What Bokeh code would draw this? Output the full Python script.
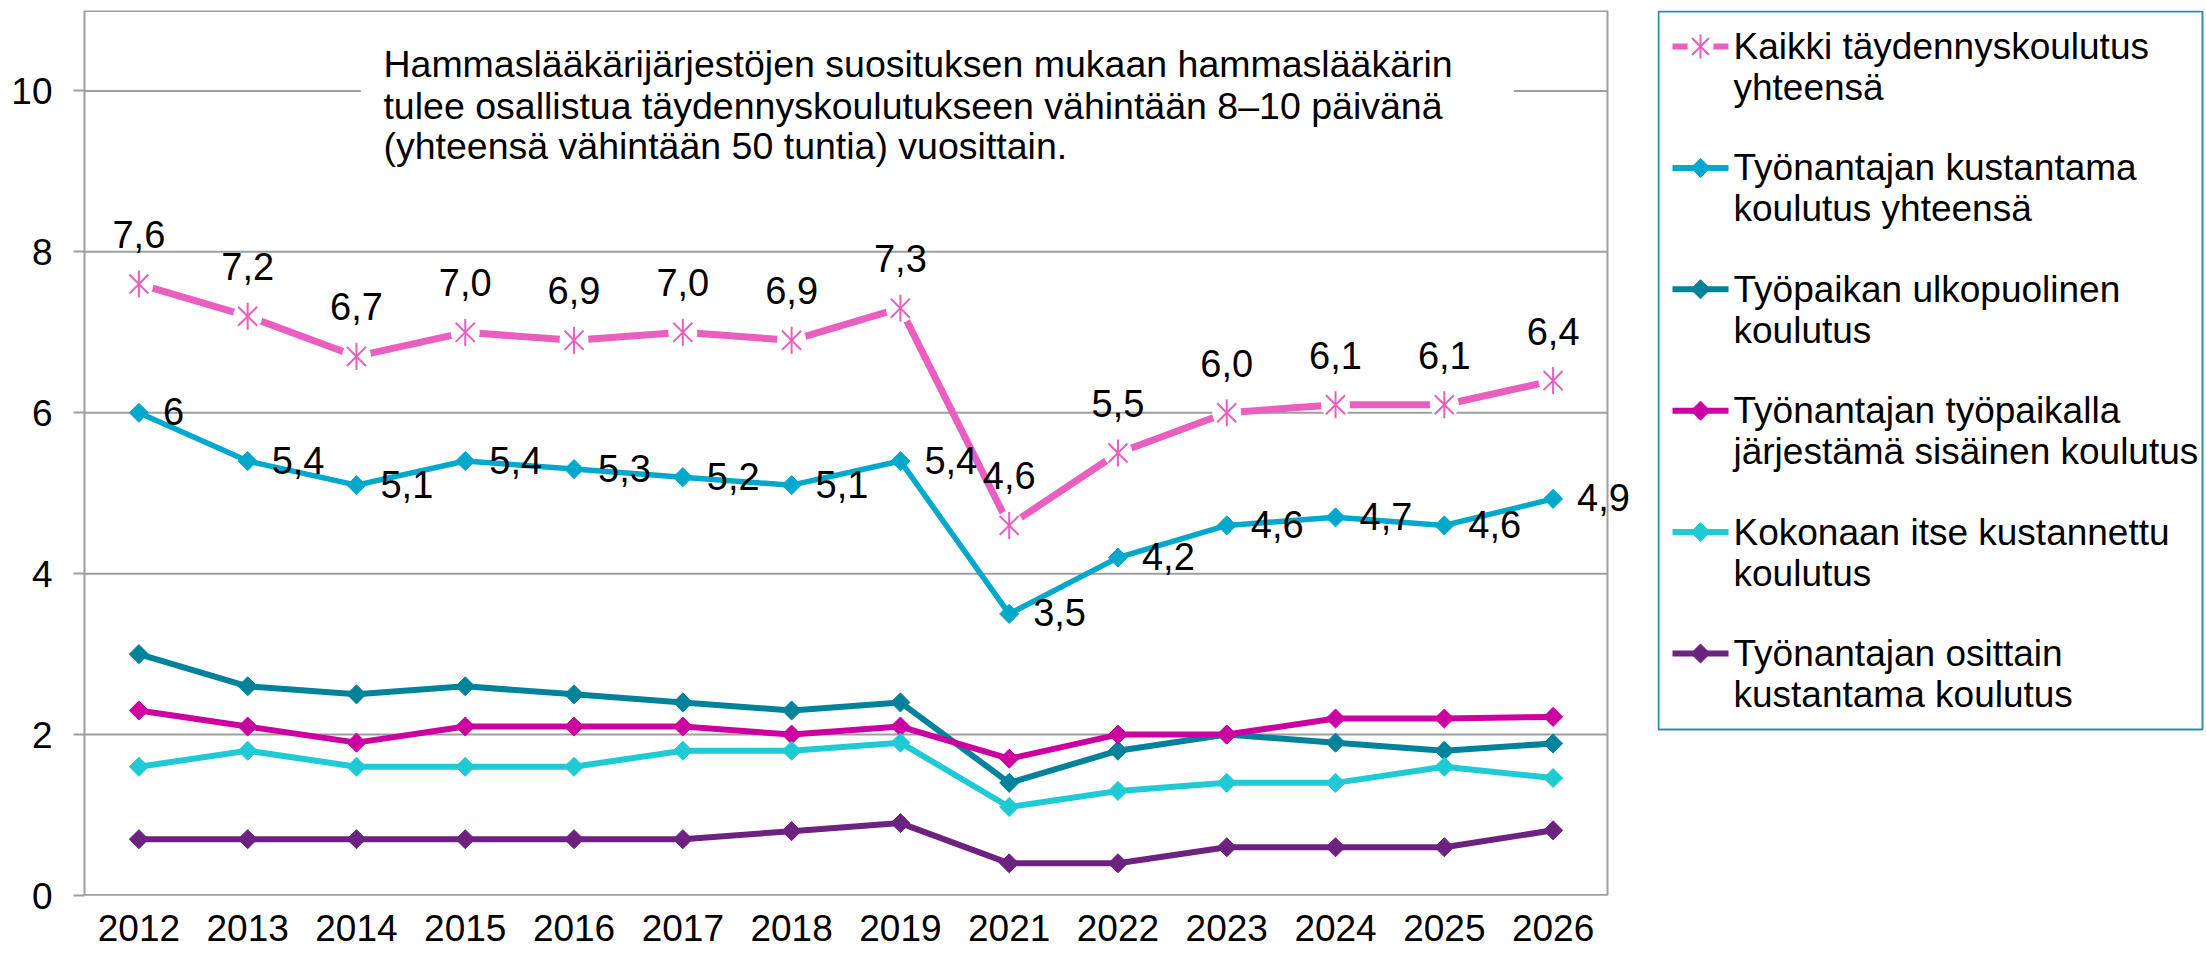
import numpy as np
from bokeh.plotting import figure
from bokeh.layouts import row
from bokeh.models import Range1d, FixedTicker, ColumnDataSource, LabelSet, Span
from bokeh.core.properties import value
from bokeh.embed import file_html
from bokeh.resources import INLINE

# ---------------- data ----------------
years = ["2012", "2013", "2014", "2015", "2016", "2017", "2018", "2019",
         "2021", "2022", "2023", "2024", "2025", "2026"]

total = [7.6, 7.2, 6.7, 7.0, 6.9, 7.0, 6.9, 7.3, 4.6, 5.5, 6.0, 6.1, 6.1, 6.4]
total_labels = ["7,6", "7,2", "6,7", "7,0", "6,9", "7,0", "6,9", "7,3",
                "4,6", "5,5", "6,0", "6,1", "6,1", "6,4"]

employer = [6.0, 5.4, 5.1, 5.4, 5.3, 5.2, 5.1, 5.4, 3.5, 4.2, 4.6, 4.7, 4.6, 4.93]
employer_labels = ["6", "5,4", "5,1", "5,4", "5,3", "5,2", "5,1", "5,4",
                   "3,5", "4,2", "4,6", "4,7", "4,6", "4,9"]

external = [3.0, 2.6, 2.5, 2.6, 2.5, 2.4, 2.3, 2.4, 1.4, 1.8, 2.0, 1.9, 1.8, 1.89]
internal = [2.3, 2.1, 1.9, 2.1, 2.1, 2.1, 2.0, 2.1, 1.7, 2.0, 2.0, 2.2, 2.2, 2.22]
self_paid = [1.6, 1.8, 1.6, 1.6, 1.6, 1.8, 1.8, 1.9, 1.1, 1.3, 1.4, 1.4, 1.6, 1.46]
partial = [0.7, 0.7, 0.7, 0.7, 0.7, 0.7, 0.8, 0.9, 0.4, 0.4, 0.6, 0.6, 0.6, 0.81]

y_ticks = [0, 2, 4, 6, 8, 10]
y_max = 11

legend_labels = [
    ["Kaikki täydennyskoulutus", "yhteensä"],
    ["Työnantajan kustantama", "koulutus yhteensä"],
    ["Työpaikan ulkopuolinen", "koulutus"],
    ["Työnantajan työpaikalla", "järjestämä sisäinen koulutus"],
    ["Kokonaan itse kustannettu", "koulutus"],
    ["Työnantajan osittain", "kustantama koulutus"],
]

note_lines = [
    "Hammaslääkärijärjestöjen suosituksen mukaan hammaslääkärin",
    "tulee osallistua täydennyskoulutukseen vähintään 8–10 päivänä",
    "(yhteensä vähintään 50 tuntia) vuosittain.",
]

# ---------------- styles / layout ----------------
FONT = "Liberation Sans"
PINK = "#E95EBE"
BLUE = "#00A8CC"
TEAL = "#00829B"
MAGENTA = "#CC00A0"
CYAN = "#1ECBD4"
PURPLE = "#6E2280"
GRID = "#9E9E9E"
LEGEND_BORDER = "#2B8FA8"

W_MAIN, W_LEG, H = 1657, 547, 956
FRAME_L, FRAME_R, FRAME_T, FRAME_B = 84, 1607, 10, 895

n = len(years)
xs = list(range(n))                      # category positions
x_lo, x_hi = -0.5, n - 0.5               # plot-area edges in category units
px_per_cat = (FRAME_R - FRAME_L) / n
x_end = x_hi + (W_MAIN - FRAME_R) / px_per_cat   # extra room so labels may pass the border

p = figure(x_range=Range1d(x_lo, x_end), y_range=Range1d(0, y_max),
           width=W_MAIN, height=H, output_backend="svg", toolbar_location=None,
           min_border_left=FRAME_L, min_border_right=0,
           min_border_top=FRAME_T, min_border_bottom=H - FRAME_B)
p.background_fill_color = "white"
p.border_fill_color = "white"
p.outline_line_color = None
p.xgrid.grid_line_color = None
p.ygrid.grid_line_color = None

p.yaxis.ticker = FixedTicker(ticks=y_ticks)
p.xaxis.ticker = FixedTicker(ticks=xs)
p.xaxis.major_label_overrides = {i: y for i, y in zip(xs, years)}

for ax in (p.xaxis, p.yaxis):
    ax.minor_tick_line_color = None
    ax.major_label_text_font = FONT
    ax.major_label_text_font_size = "37px"
    ax.major_label_text_color = "black"

p.yaxis.axis_line_color = GRID
p.yaxis.axis_line_width = 2
p.yaxis.major_tick_out = 11
p.yaxis.major_tick_in = 0
p.yaxis.major_tick_line_color = GRID
p.yaxis.major_tick_line_width = 2
p.yaxis.major_label_standoff = 21
p.xaxis.axis_line_color = None
p.xaxis.major_tick_line_color = None
p.xaxis.major_tick_out = 0
p.xaxis.major_tick_in = 0
p.xaxis.major_label_standoff = 19

# horizontal gridlines + plot-area border limited to the plot area
p.segment(x0=[x_lo] * len(y_ticks), x1=[x_hi] * len(y_ticks), y0=y_ticks, y1=y_ticks,
          line_color=GRID, line_width=2, level="underlay")
p.segment(x0=[x_lo, x_lo], x1=[x_hi, x_hi], y0=[0, y_max], y1=[0, y_max],
          line_color=GRID, line_width=3, level="underlay")
p.add_layout(Span(location=x_hi, dimension="height", line_color=GRID, line_width=2,
                  level="underlay"))

# note box (white background hiding gridline) and text
p.quad(left=[2.04], right=[12.64], bottom=[9.72], top=[10.28],
       fill_color="white", line_color=None)
p.text(x=[2.248] * 3, y=[10.34, 9.81, 9.32], text=note_lines,
       text_font=value(FONT), text_font_size="37.5px", text_color="black",
       text_align="left", text_baseline="middle")

DIAMOND = dict(marker="square", angle=np.pi / 4, size=13.5)

# series 1: total (pink, asterisks)
p.line(xs, total, line_color=PINK, line_width=7)
p.scatter(xs, total, marker="circle", size=29, fill_color="white", line_color=None)
p.scatter(xs, total, marker="x", size=27, line_color=PINK, line_width=2)
p.scatter(xs, total, marker="dash", angle=np.pi / 2, size=27, line_color=PINK, line_width=2)

# other series
for vals, col, lw in ((employer, BLUE, 5.5), (external, TEAL, 6), (internal, MAGENTA, 6),
                      (self_paid, CYAN, 6), (partial, PURPLE, 6)):
    p.line(xs, vals, line_color=col, line_width=lw)
    p.scatter(xs, vals, fill_color=col, line_color=col, **DIAMOND)

# data labels
src_total = ColumnDataSource(dict(x=xs, y=total, t=total_labels))
src_emp = ColumnDataSource(dict(x=xs, y=employer, t=employer_labels))
p.add_layout(LabelSet(x="x", y="y", text="t", source=src_total,
                      text_font=value(FONT), text_font_size="38px", text_color="black",
                      text_align="center", text_baseline="alphabetic", y_offset=36))
p.add_layout(LabelSet(x="x", y="y", text="t", source=src_emp,
                      text_font=value(FONT), text_font_size="38px", text_color="black",
                      text_align="left", text_baseline="middle", x_offset=24, y_offset=1))

# ---------------- legend figure (data units = page pixels) ----------------
lg = figure(x_range=Range1d(0, W_LEG), y_range=Range1d(FRAME_B, FRAME_T),
            width=W_LEG, height=H, output_backend="svg", toolbar_location=None,
            x_axis_location=None, y_axis_location=None,
            min_border_left=0, min_border_right=0,
            min_border_top=FRAME_T, min_border_bottom=H - FRAME_B)
lg.outline_line_color = None
lg.xgrid.grid_line_color = None
lg.ygrid.grid_line_color = None
lg.background_fill_color = "white"
lg.border_fill_color = "white"

lg.quad(left=[1], right=[W_LEG - 2], top=[11], bottom=[729],
        fill_color=None, line_color=LEGEND_BORDER, line_width=2)

colors = [PINK, BLUE, TEAL, MAGENTA, CYAN, PURPLE]
first_y, step, line_gap = 46, 121.4, 41
for i, (lab, col) in enumerate(zip(legend_labels, colors)):
    yy = first_y + i * step
    lg.line([15, 71], [yy, yy], line_color=col, line_width=6)
    if i == 0:
        lg.scatter([43], [yy], marker="circle", size=26, fill_color="white", line_color=None)
        lg.scatter([43], [yy], marker="x", size=24, line_color=col, line_width=2)
        lg.scatter([43], [yy], marker="dash", angle=np.pi / 2, size=24, line_color=col, line_width=2)
    else:
        lg.scatter([43], [yy], fill_color=col, line_color=col, **DIAMOND)
    lg.text(x=[76, 76], y=[yy, yy + line_gap], text=lab, text_font=value(FONT),
            text_font_size="37px", text_color="black", text_align="left", text_baseline="middle")

layout = row(p, lg)
open("out.html", "w").write(file_html(layout, INLINE))
